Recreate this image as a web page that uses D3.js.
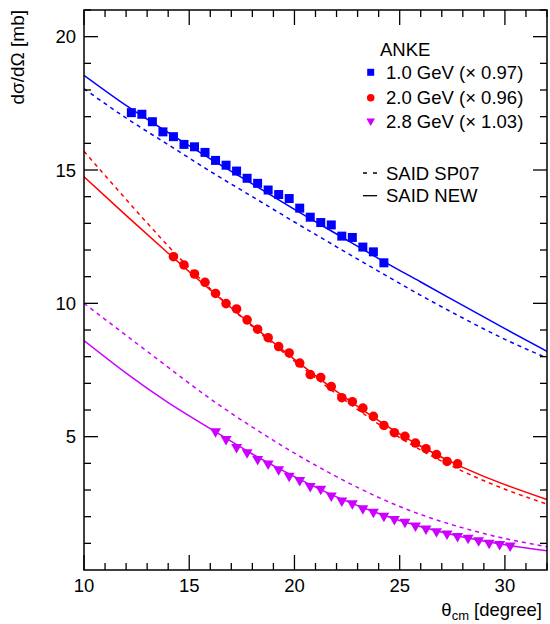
<!DOCTYPE html>
<html>
<head>
<meta charset="utf-8">
<script src="https://cdn.jsdelivr.net/npm/d3@7"></script>
<style>
  html, body { margin: 0; padding: 0; background: #fff; }
  #chart { width: 550px; height: 624px; }
</style>
</head>
<body>
<div id="chart"></div>
<script>
// ANKE data points (theta_cm in degrees, dsigma/dOmega in mb)
const ANKE_10_X = [12.25, 12.75, 13.25, 13.75, 14.25, 14.75, 15.25, 15.75, 16.25, 16.75, 17.25, 17.75, 18.25,
  18.75, 19.25, 19.75, 20.25, 20.75, 21.25, 21.75, 22.25, 22.75, 23.25, 23.75, 24.25]
const ANKE_10_Y = [17.15, 17.09, 16.81, 16.43, 16.25, 15.96, 15.87, 15.66, 15.36, 15.18, 14.96, 14.69, 14.50,
  14.25, 14.08, 13.93, 13.57, 13.23, 13.03, 12.94, 12.52, 12.47, 12.11, 11.93, 11.52]

const ANKE_20_X = [14.25, 14.75, 15.25, 15.75, 16.25, 16.75, 17.25, 17.75, 18.25, 18.75, 19.25, 19.75, 20.25, 20.75,
  21.25, 21.75, 22.25, 22.75, 23.25, 23.75, 24.25, 24.75, 25.25, 25.75, 26.25, 26.75, 27.25, 27.75]
const ANKE_20_Y = [11.75, 11.44, 11.10, 10.79, 10.37, 9.99, 9.79, 9.38, 9.03, 8.71, 8.38, 8.14, 7.76, 7.33,
  7.22, 6.88, 6.46, 6.31, 6.07, 5.76, 5.42, 5.15, 5.01, 4.76, 4.55, 4.33, 4.07, 3.98]

const ANKE_28_X = [16.25, 16.75, 17.25, 17.75, 18.25, 18.75, 19.25, 19.75, 20.25, 20.75, 21.25, 21.75, 22.25, 22.75,
  23.25, 23.75, 24.25, 24.75, 25.25, 25.75, 26.25, 26.75, 27.25, 27.75, 28.25, 28.75, 29.25, 29.75, 30.25]
const ANKE_28_Y = [5.20, 4.91, 4.61, 4.41, 4.16, 3.99, 3.77, 3.53, 3.37, 3.14, 3.04, 2.79, 2.60, 2.50,
  2.31, 2.18, 2.03, 1.91, 1.80, 1.66, 1.55, 1.45, 1.36, 1.27, 1.20, 1.11, 1.02, 0.97, 0.91]

const CURVE_X = [10, 12, 14, 16, 18, 20, 22, 24, 26, 28, 30, 32]
const NEW_10 = [18.55, 17.42, 16.4, 15.42, 14.48, 13.52, 12.6, 11.68, 10.8, 9.92, 9.05, 8.2]
const SP07_10 = [18.05, 16.95, 15.95, 14.95, 14.0, 13.05, 12.12, 11.2, 10.3, 9.45, 8.65, 7.95]
const NEW_20 = [14.75, 13.3, 11.88, 10.5, 9.17, 7.9, 6.7, 5.6, 4.64, 3.85, 3.2, 2.64]
const SP07_20 = [15.7, 13.9, 12.15, 10.55, 9.13, 7.83, 6.6, 5.47, 4.5, 3.7, 3.03, 2.47]
const NEW_28 = [8.6, 7.38, 6.28, 5.3, 4.35, 3.5, 2.74, 2.12, 1.62, 1.24, 0.95, 0.72]
const SP07_28 = [10.0, 8.8, 7.6, 6.42, 5.36, 4.38, 3.5, 2.72, 2.08, 1.58, 1.18, 0.87]

const X_TICKS = [10, 15, 20, 25, 30]
const Y_TICKS = [5, 10, 15, 20]
const LEGEND_ROWS = ['1.0 GeV (\u00d7 0.97)', '2.0 GeV (\u00d7 0.96)', '2.8 GeV (\u00d7 1.03)']

const BLUE = '#0000ff', RED = '#ff0000', VIOLET = '#cc00ff'
const FONT = '"Liberation Sans", Arial, Helvetica, sans-serif'

const margin = { top: 10, right: 3, bottom: 54, left: 84 }
const totalW = 550, totalH = 624
const W = totalW - margin.left - margin.right
const H = totalH - margin.top - margin.bottom

const svg = d3.select('#chart').append('svg')
  .attr('width', totalW).attr('height', totalH)
  .style('font-family', FONT)

const g = svg.append('g').attr('transform', `translate(${margin.left},${margin.top})`)

const x = d3.scaleLinear().domain([10, 32]).range([0, W])
const y = d3.scaleLinear().domain([0, 21]).range([H, 0])

g.append('defs').append('clipPath').attr('id', 'clip')
  .append('rect').attr('width', W).attr('height', H)

// Curves
const line = d3.line().x(d => x(d[0])).y(d => y(d[1])).curve(d3.curveNatural)
const curves = [
  { ys: SP07_10, color: BLUE, dash: true },
  { ys: NEW_10, color: BLUE, dash: false },
  { ys: SP07_20, color: RED, dash: true },
  { ys: NEW_20, color: RED, dash: false },
  { ys: SP07_28, color: VIOLET, dash: true },
  { ys: NEW_28, color: VIOLET, dash: false }
]
const plot = g.append('g').attr('clip-path', 'url(#clip)')
curves.forEach(c => {
  plot.append('path')
    .datum(CURVE_X.map((v, i) => [v, c.ys[i]]))
    .attr('fill', 'none')
    .attr('stroke', c.color)
    .attr('stroke-width', 1.5)
    .attr('stroke-dasharray', c.dash ? '4,4' : null)
    .attr('d', line)
})

// Markers
const pts = (xs, ys) => xs.map((v, i) => [v, ys[i]])
const sq = d3.symbol().type(d3.symbolSquare).size(81)
const circ = d3.symbol().type(d3.symbolCircle).size(72)
const tri = d3.symbol().type(d3.symbolTriangle).size(52)

plot.selectAll('.m10').data(pts(ANKE_10_X, ANKE_10_Y)).enter().append('path')
  .attr('transform', d => `translate(${x(d[0])},${y(d[1])})`)
  .attr('d', sq).attr('fill', BLUE)
plot.selectAll('.m20').data(pts(ANKE_20_X, ANKE_20_Y)).enter().append('path')
  .attr('transform', d => `translate(${x(d[0])},${y(d[1])})`)
  .attr('d', circ).attr('fill', RED)
plot.selectAll('.m28').data(pts(ANKE_28_X, ANKE_28_Y)).enter().append('path')
  .attr('transform', d => `translate(${x(d[0])},${y(d[1])}) rotate(180)`)
  .attr('d', tri).attr('fill', VIOLET)

// Ticks on all four sides, pointing inward
const xMinor = d3.range(11, 33).filter(v => v % 5 !== 0)
const yMinor = d3.range(1, 22).filter(v => v % 5 !== 0)
const ticks = g.append('g').attr('stroke', '#000').attr('stroke-width', 1.3)
X_TICKS.concat(xMinor).forEach(v => {
  const len = X_TICKS.includes(v) ? 15 : 7
  ticks.append('line').attr('x1', x(v)).attr('x2', x(v)).attr('y1', H).attr('y2', H - len)
  ticks.append('line').attr('x1', x(v)).attr('x2', x(v)).attr('y1', 0).attr('y2', len)
})
Y_TICKS.concat(yMinor).forEach(v => {
  const len = Y_TICKS.includes(v) ? 14 : 7
  ticks.append('line').attr('x1', 0).attr('x2', len).attr('y1', y(v)).attr('y2', y(v))
  ticks.append('line').attr('x1', W).attr('x2', W - len).attr('y1', y(v)).attr('y2', y(v))
})

// Frame
g.append('rect').attr('width', W).attr('height', H)
  .attr('fill', 'none').attr('stroke', '#000').attr('stroke-width', 1.5)

// Tick labels
g.selectAll('.xl').data(X_TICKS).enter().append('text')
  .attr('x', d => x(d)).attr('y', H + 22)
  .attr('text-anchor', 'middle').attr('font-size', 18.5).text(d => d)
g.selectAll('.yl').data(Y_TICKS).enter().append('text')
  .attr('x', -8).attr('y', d => y(d) + 6.5)
  .attr('text-anchor', 'end').attr('font-size', 18.5).text(d => d)

// Axis titles
const xt = svg.append('text')
  .attr('x', 542).attr('y', 616)
  .attr('text-anchor', 'end').attr('font-size', 18.5)
xt.append('tspan').text('\u03b8')
xt.append('tspan').attr('font-size', 13).attr('dy', 4).text('cm')
xt.append('tspan').attr('dy', -4).text(' [degree]')

svg.append('text')
  .attr('transform', 'translate(24,10) rotate(-90)')
  .attr('text-anchor', 'end').attr('font-size', 19)
  .text('d\u03c3/d\u03a9 [mb]')

// Legend
const leg = svg.append('g').attr('font-size', 18.5)
leg.append('text').attr('x', 380).attr('y', 56).text('ANKE')
const legY = [72.3, 97.7, 121]
const legSym = [
  d3.symbol().type(d3.symbolSquare).size(49),
  d3.symbol().type(d3.symbolCircle).size(45),
  d3.symbol().type(d3.symbolTriangle).size(32)
]
const legCol = [BLUE, RED, VIOLET]
LEGEND_ROWS.forEach((label, i) => {
  leg.append('path')
    .attr('transform', `translate(370.7,${legY[i]})${i === 2 ? ' rotate(180)' : ''}`)
    .attr('d', legSym[i]).attr('fill', legCol[i])
  leg.append('text').attr('x', 386).attr('y', legY[i] + 6.7).text(label)
})
;[{ label: 'SAID SP07', yy: 173, dash: true }, { label: 'SAID NEW', yy: 195.7, dash: false }].forEach(item => {
  leg.append('line')
    .attr('x1', 363).attr('x2', 377).attr('y1', item.yy).attr('y2', item.yy)
    .attr('stroke', '#000').attr('stroke-width', 1.3)
    .attr('stroke-dasharray', item.dash ? '4,6,4' : null)
  leg.append('text').attr('x', 386).attr('y', item.yy + 6.7).text(item.label)
})
</script>
</body>
</html>
